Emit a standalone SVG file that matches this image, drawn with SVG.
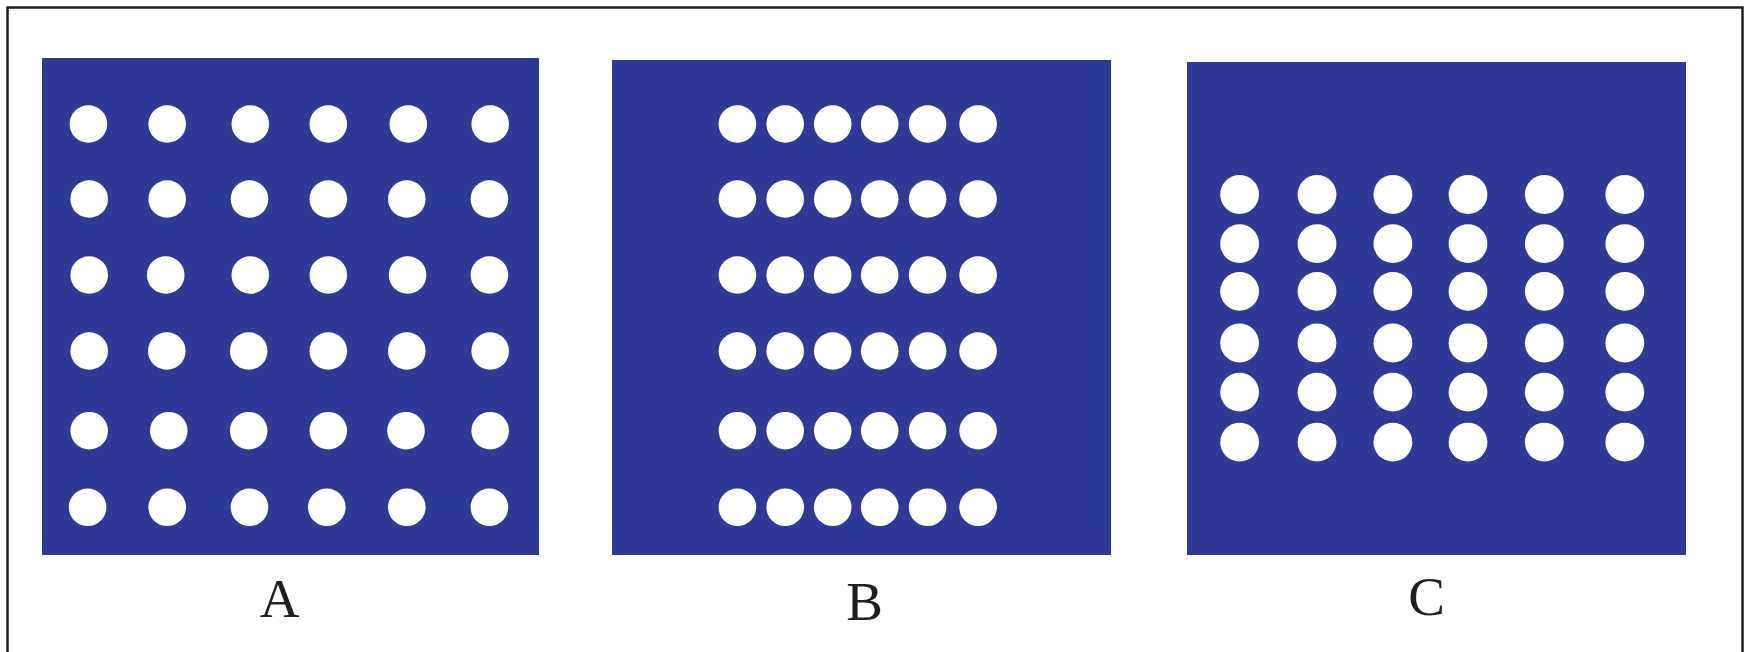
<svg xmlns="http://www.w3.org/2000/svg" width="1745" height="652" viewBox="0 0 1745 652">
<style>
.panel{fill:#2f3996}
.hole{fill:#ffffff}
.lbl{font-family:"Liberation Serif","Times New Roman",serif;font-size:55px;fill:#231f20;text-anchor:middle}
</style>
<rect x="0" y="0" width="1745" height="652" fill="#ffffff"/>
<rect x="7.5" y="7.5" width="1735" height="670" fill="none" stroke="#231f20" stroke-width="2.5"/>
<g id="panelA">
<rect class="panel" x="42" y="58" width="497" height="497"/>
<g class="hole">
<circle cx="88.4" cy="124" r="18.8"/><circle cx="167.2" cy="124" r="18.8"/><circle cx="250.3" cy="124" r="18.8"/><circle cx="328.3" cy="124" r="18.8"/><circle cx="408.3" cy="124" r="18.8"/><circle cx="490.2" cy="124" r="18.8"/>
<circle cx="89.2" cy="199" r="18.8"/><circle cx="167.2" cy="199" r="18.8"/><circle cx="249.5" cy="199" r="18.8"/><circle cx="328.3" cy="199" r="18.8"/><circle cx="406.8" cy="199" r="18.8"/><circle cx="489.4" cy="199" r="18.8"/>
<circle cx="89.2" cy="275" r="18.8"/><circle cx="165.7" cy="275" r="18.8"/><circle cx="250.3" cy="275" r="18.8"/><circle cx="328.3" cy="275" r="18.8"/><circle cx="407.6" cy="275" r="18.8"/><circle cx="489.4" cy="275" r="18.8"/>
<circle cx="89.2" cy="351" r="18.8"/><circle cx="166.8" cy="351" r="18.8"/><circle cx="248.7" cy="351" r="18.8"/><circle cx="328.3" cy="351" r="18.8"/><circle cx="406.8" cy="351" r="18.8"/><circle cx="490.2" cy="351" r="18.8"/>
<circle cx="89.2" cy="430.7" r="18.8"/><circle cx="168.8" cy="430.7" r="18.8"/><circle cx="248.7" cy="430.7" r="18.8"/><circle cx="328.3" cy="430.7" r="18.8"/><circle cx="406" cy="430.7" r="18.8"/><circle cx="490.2" cy="430.7" r="18.8"/>
<circle cx="87.6" cy="507.3" r="18.8"/><circle cx="167.2" cy="507.3" r="18.8"/><circle cx="249.5" cy="507.3" r="18.8"/><circle cx="326.8" cy="507.3" r="18.8"/><circle cx="406.8" cy="507.3" r="18.8"/><circle cx="489.4" cy="507.3" r="18.8"/>
</g>
<text class="lbl" x="279.5" y="617">A</text>
</g>
<g id="panelB">
<rect class="panel" x="612" y="60" width="499" height="495"/>
<g class="hole">
<circle cx="737.4" cy="124" r="18.8"/><circle cx="785.2" cy="124" r="18.8"/><circle cx="832.7" cy="124" r="18.8"/><circle cx="879.7" cy="124" r="18.8"/><circle cx="927.6" cy="124" r="18.8"/><circle cx="978.1" cy="124" r="18.8"/>
<circle cx="737.4" cy="199" r="18.8"/><circle cx="785.2" cy="199" r="18.8"/><circle cx="832.7" cy="199" r="18.8"/><circle cx="879.7" cy="199" r="18.8"/><circle cx="927.6" cy="199" r="18.8"/><circle cx="978.1" cy="199" r="18.8"/>
<circle cx="737.4" cy="275" r="18.8"/><circle cx="785.2" cy="275" r="18.8"/><circle cx="832.7" cy="275" r="18.8"/><circle cx="879.7" cy="275" r="18.8"/><circle cx="927.6" cy="275" r="18.8"/><circle cx="978.1" cy="275" r="18.8"/>
<circle cx="737.4" cy="351" r="18.8"/><circle cx="785.2" cy="351" r="18.8"/><circle cx="832.7" cy="351" r="18.8"/><circle cx="879.7" cy="351" r="18.8"/><circle cx="927.6" cy="351" r="18.8"/><circle cx="978.1" cy="351" r="18.8"/>
<circle cx="737.4" cy="430.7" r="18.8"/><circle cx="785.2" cy="430.7" r="18.8"/><circle cx="832.7" cy="430.7" r="18.8"/><circle cx="879.7" cy="430.7" r="18.8"/><circle cx="927.6" cy="430.7" r="18.8"/><circle cx="978.1" cy="430.7" r="18.8"/>
<circle cx="737.4" cy="507.3" r="18.8"/><circle cx="785.2" cy="507.3" r="18.8"/><circle cx="832.7" cy="507.3" r="18.8"/><circle cx="879.7" cy="507.3" r="18.8"/><circle cx="927.6" cy="507.3" r="18.8"/><circle cx="978.1" cy="507.3" r="18.8"/>
</g>
<text class="lbl" x="864.5" y="620">B</text>
</g>
<g id="panelC">
<rect class="panel" x="1187" y="62" width="499" height="493"/>
<g class="hole">
<circle cx="1239.6" cy="194.5" r="19.4"/><circle cx="1317" cy="194.5" r="19.4"/><circle cx="1392.9" cy="194.5" r="19.4"/><circle cx="1468" cy="194.5" r="19.4"/><circle cx="1544.3" cy="194.5" r="19.4"/><circle cx="1624.8" cy="194.5" r="19.4"/>
<circle cx="1239.6" cy="243.7" r="19.4"/><circle cx="1317" cy="243.7" r="19.4"/><circle cx="1392.9" cy="243.7" r="19.4"/><circle cx="1468" cy="243.7" r="19.4"/><circle cx="1544.3" cy="243.7" r="19.4"/><circle cx="1624.8" cy="243.7" r="19.4"/>
<circle cx="1239.6" cy="291.4" r="19.4"/><circle cx="1317" cy="291.4" r="19.4"/><circle cx="1392.9" cy="291.4" r="19.4"/><circle cx="1468" cy="291.4" r="19.4"/><circle cx="1544.3" cy="291.4" r="19.4"/><circle cx="1624.8" cy="291.4" r="19.4"/>
<circle cx="1239.6" cy="343" r="19.4"/><circle cx="1317" cy="343" r="19.4"/><circle cx="1392.9" cy="343" r="19.4"/><circle cx="1468" cy="343" r="19.4"/><circle cx="1544.3" cy="343" r="19.4"/><circle cx="1624.8" cy="343" r="19.4"/>
<circle cx="1239.6" cy="392.2" r="19.4"/><circle cx="1317" cy="392.2" r="19.4"/><circle cx="1392.9" cy="392.2" r="19.4"/><circle cx="1468" cy="392.2" r="19.4"/><circle cx="1544.3" cy="392.2" r="19.4"/><circle cx="1624.8" cy="392.2" r="19.4"/>
<circle cx="1239.6" cy="442.2" r="19.4"/><circle cx="1317" cy="442.2" r="19.4"/><circle cx="1392.9" cy="442.2" r="19.4"/><circle cx="1468" cy="442.2" r="19.4"/><circle cx="1544.3" cy="442.2" r="19.4"/><circle cx="1624.8" cy="442.2" r="19.4"/>
</g>
<text class="lbl" x="1426.5" y="615">C</text>
</g>
<g id="connectors"/>
</svg>
